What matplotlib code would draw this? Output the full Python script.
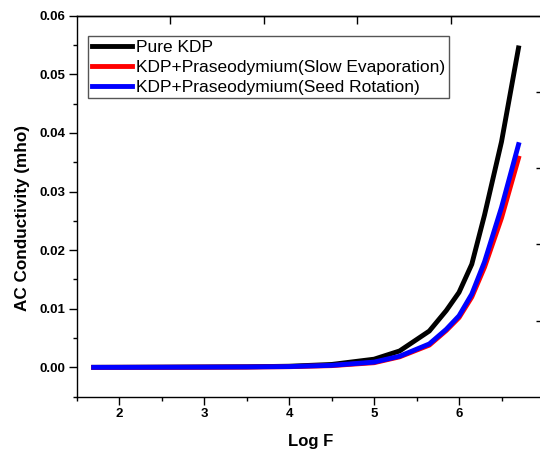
import matplotlib
matplotlib.use("Agg")
import matplotlib.pyplot as plt
from matplotlib.ticker import MultipleLocator, FixedLocator, FuncFormatter

# ---- data ----
log_f = [1.7, 2.0, 2.5, 3.0, 3.5, 4.0, 4.5, 5.0, 5.3, 5.65, 5.85, 6.0, 6.15,
         6.3, 6.5, 6.7]
pure_kdp = [0.00001, 0.00002, 0.00004, 0.00007, 0.0001, 0.0002, 0.0005, 0.0014,
            0.0028, 0.0062, 0.0097, 0.0128, 0.0176, 0.0260, 0.0385, 0.0545]
slow_evap = [0.00000, 0.00001, 0.00002, 0.00004, 0.00006, 0.00012, 0.0003, 0.0008,
             0.0018, 0.0038, 0.0063, 0.0085, 0.0120, 0.0171, 0.0255, 0.0357]
seed_rot = [0.00001, 0.00001, 0.00003, 0.00005, 0.00008, 0.00014, 0.00035, 0.0009,
            0.0019, 0.0040, 0.0065, 0.0088, 0.0125, 0.0180, 0.0273, 0.0380]
labels = ["Pure KDP", "KDP+Praseodymium(Slow Evaporation)",
          "KDP+Praseodymium(Seed Rotation)"]
x_label = "Log F"
y_label = "AC Conductivity (mho)"

plt.rcParams['font.family'] = ['Liberation Sans', 'DejaVu Sans']

W, H = 540, 450
fig = plt.figure(figsize=(W / 100, H / 100), dpi=100)
left, right, top, bottom = 76.7, 544.0, 15.7, 396.7
pos = [left / W, 1 - bottom / H, (right - left) / W, (bottom - top) / H]
ax = fig.add_axes(pos)

lw = 3.5
ax.plot(log_f, pure_kdp, color='black', lw=lw, label=labels[0])
ax.plot(log_f, slow_evap, color='#ff0000', lw=lw, label=labels[1])
ax.plot(log_f, seed_rot, color='#0000ff', lw=lw, label=labels[2])

ax.set_xlim(1.5, 7.0)
ax.set_ylim(-0.005, 0.06)
ax.xaxis.set_major_locator(MultipleLocator(1))
ax.xaxis.set_minor_locator(MultipleLocator(0.5))
ax.xaxis.set_major_formatter(FuncFormatter(lambda v, p: '' if v > 6.5 else '%d' % round(v)))
ax.yaxis.set_major_locator(MultipleLocator(0.01))
ax.yaxis.set_minor_locator(MultipleLocator(0.005))
ax.yaxis.set_major_formatter(matplotlib.ticker.FormatStrFormatter('%.2f'))
ax.tick_params(which='major', direction='out', length=5.5, width=1.0,
               labelsize=9.5, pad=2.5)
ax.tick_params(which='minor', direction='out', length=3, width=1.0)
for lab in ax.get_xticklabels() + ax.get_yticklabels():
    lab.set_fontweight('bold')
ax.set_xlabel(x_label, fontsize=12, fontweight='bold')
ax.set_ylabel(y_label, fontsize=12.3, fontweight='bold')
ax.xaxis.set_label_coords(0.5, -0.097)
ax.yaxis.set_label_coords(-0.101, 0.47)
for s in ax.spines.values():
    s.set_linewidth(1.0)

# top/right frame layer with its own ticks
ax2 = fig.add_axes(pos, facecolor='none')
ax2.set_xlim(0, 1)
ax2.set_ylim(0, 1)
ax2.xaxis.set_major_locator(FixedLocator([0.2, 0.4, 0.6, 0.8]))
ax2.yaxis.set_major_locator(FixedLocator([0.2, 0.4, 0.6, 0.8]))
ax2.tick_params(which='both', direction='in', length=5.5, width=1.0,
                top=True, right=True, bottom=False, left=False,
                labeltop=False, labelright=False, labelbottom=False, labelleft=False)
ax2.spines['left'].set_visible(False)
ax2.spines['bottom'].set_visible(False)
for s in ax2.spines.values():
    s.set_linewidth(1.0)

leg = ax.legend(loc='upper left', bbox_to_anchor=(0.0248, 0.9467), borderaxespad=0,
                fontsize=12.5, frameon=True, fancybox=False, shadow=False,
                framealpha=1, edgecolor='#555555', handlelength=2.3,
                handletextpad=0.25, labelspacing=0.28, borderpad=0.2)
leg.get_frame().set_linewidth(1.0)
leg.set_zorder(5)

fig.savefig("out.png", dpi=100)
